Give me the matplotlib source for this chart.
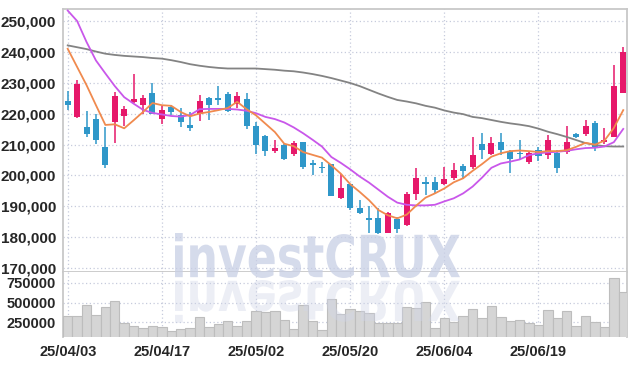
import matplotlib
matplotlib.use("Agg")
import matplotlib.pyplot as plt
import matplotlib.ticker as mticker
from matplotlib.textpath import TextPath
from matplotlib.patches import PathPatch
from matplotlib.font_manager import FontProperties
from matplotlib.transforms import Affine2D

# daily candles (thousand won)
opens = [224.1, 219.0, 215.8, 218.3, 209.1, 217.4, 219.3, 223.9, 222.8, 226.8,
         218.4, 222.2, 219.5, 216.3, 220.1, 225.0, 225.0, 226.3, 223.1, 224.9,
         216.2, 212.7, 207.9, 210.0, 207.1, 210.9, 204.1, 202.8, 203.6, 192.7,
         197.2, 189.6, 186.1, 186.1, 181.4, 185.8, 183.9, 194.0, 197.9, 197.8,
         197.2, 199.2, 203.1, 202.7, 210.1, 207.0, 211.0, 208.1, 207.3, 204.3,
         208.4, 206.5, 207.3, 207.5, 213.5, 213.4, 217.1, 210.8, 212.6, 226.9]
highs = [227.5, 230.9, 221.0, 220.1, 215.6, 227.1, 222.6, 233.0, 226.2, 230.1,
         222.6, 223.0, 221.9, 220.6, 226.2, 225.3, 229.1, 227.1, 227.1, 226.6,
         217.3, 213.0, 211.6, 210.3, 211.2, 211.0, 205.1, 204.4, 203.8, 200.6,
         197.4, 192.0, 190.0, 189.3, 188.2, 186.6, 194.5, 202.4, 199.5, 199.6,
         202.6, 203.9, 203.6, 212.5, 213.7, 212.6, 213.7, 208.3, 211.6, 208.1,
         209.4, 213.2, 208.4, 215.9, 213.8, 218.0, 217.7, 215.4, 235.7, 241.6]
lows = [221.2, 218.8, 212.5, 210.1, 202.5, 210.7, 216.2, 223.6, 219.8, 219.9,
        216.6, 219.5, 215.6, 214.5, 217.6, 218.1, 222.8, 220.6, 222.0, 215.0,
        207.1, 206.4, 207.3, 204.9, 206.2, 202.0, 200.1, 200.8, 193.3, 192.5,
        188.7, 187.5, 181.5, 181.1, 181.2, 181.4, 183.7, 192.2, 193.6, 194.2,
        196.9, 198.7, 199.0, 202.1, 205.2, 206.5, 206.5, 200.9, 205.4, 203.8,
        204.8, 205.4, 200.8, 207.0, 212.2, 212.9, 208.1, 210.2, 212.4, 226.6]
closes = [223.0, 229.6, 213.6, 211.5, 203.4, 225.7, 221.7, 224.7, 225.2, 220.1,
          221.2, 220.6, 217.3, 215.5, 224.1, 222.8, 224.4, 220.9, 225.7, 216.1,
          210.0, 207.9, 209.0, 205.2, 210.6, 202.8, 203.5, 202.3, 193.4, 195.8,
          189.5, 187.9, 185.6, 181.3, 187.7, 182.6, 193.9, 199.3, 197.4, 195.3,
          198.9, 201.8, 201.5, 206.5, 208.3, 210.6, 208.3, 205.3, 207.0, 207.3,
          206.2, 211.6, 202.4, 211.0, 212.5, 216.1, 208.9, 211.6, 229.0, 240.0]

# moving averages (thousand won)
ma_short = [241.1, 235.2, 229.3, 222.8, 216.4, 216.6, 215.3, 217.9, 220.6, 223.5,
            222.8, 222.6, 220.6, 219.2, 220.1, 220.6, 221.2, 221.9, 223.9, 221.5,
            219.5, 216.8, 214.1, 210.3, 209.5, 207.6, 206.7, 205.8, 203.3, 200.6,
            197.2, 194.7, 192.0, 188.8, 187.1, 186.1, 187.3, 190.2, 192.8, 194.2,
            195.8, 197.8, 199.1, 201.5, 203.7, 206.1, 207.2, 207.9, 208.1, 207.9,
            207.6, 207.9, 207.9, 208.2, 209.3, 210.6, 210.0, 211.3, 215.4, 221.2]
ma_mid = [253.5, 250.1, 243.3, 237.3, 233.1, 229.0, 225.4, 223.3, 221.3, 220.3,
          219.8, 219.3, 219.1, 219.6, 221.5, 221.6, 221.6, 221.6, 221.4, 221.0,
          220.2, 219.0, 218.3, 217.2, 215.6, 213.7, 211.6, 209.4, 206.0, 204.1,
          202.0, 199.7, 197.7, 195.4, 193.1, 191.2, 190.5, 190.3, 190.3, 190.5,
          191.6, 192.6, 194.2, 196.4, 199.3, 202.5, 203.9, 204.5, 205.2, 206.6,
          207.2, 207.5, 207.7, 208.0, 208.5, 208.9, 209.0, 209.4, 210.8, 215.1]
ma_long = [242.2, 241.6, 241.0, 240.2, 239.5, 239.1, 238.8, 238.6, 238.4, 238.1,
           237.9, 237.4, 236.8, 236.1, 235.6, 235.2, 234.9, 234.7, 234.7, 234.7,
           234.7, 234.5, 234.3, 234.0, 233.8, 233.4, 232.9, 232.3, 231.6, 230.8,
           230.0, 229.0, 227.8, 226.6, 225.5, 224.5, 224.0, 223.4, 222.6, 222.0,
           221.1, 220.4, 219.9, 219.0, 218.6, 218.0, 217.4, 216.9, 216.5, 216.0,
           215.2, 214.2, 213.4, 212.5, 211.5, 210.5, 209.9, 209.5, 209.4, 209.4]

# volume (thousand shares)
volume = [330, 330, 468, 342, 439, 515, 237, 199, 174, 199,
          187, 138, 162, 174, 313, 187, 229, 263, 199, 263,
          393, 376, 393, 279, 162, 468, 263, 149, 540, 351,
          418, 393, 363, 237, 237, 237, 439, 426, 502, 174,
          300, 254, 330, 414, 300, 456, 313, 263, 279, 237,
          220, 405, 300, 393, 199, 330, 254, 187, 809, 632]

tick_pos = [0, 10, 20, 30, 40, 50]
tick_labels = ["25/04/03", "25/04/17", "25/05/02", "25/05/20", "25/06/04", "25/06/19"]

UP = "#e6186a"
DOWN = "#2f97c9"
GRID = "#c6cbdc"
EDGE = "#c8c8c8"
LABEL = "#262626"

plt.rcParams["font.family"] = ["Liberation Sans Narrow", "Liberation Sans", "DejaVu Sans"]
plt.rcParams["font.weight"] = "bold"

fig = plt.figure(figsize=(6.37, 3.66), dpi=100)
ax = fig.add_axes([63 / 637, 1 - 272 / 366, 564 / 637, 263 / 366])
axv = fig.add_axes([63 / 637, 1 - 337 / 366, 564 / 637, 65 / 366], sharex=ax)

n = len(opens)
xs = list(range(n))

# price panel
for i in xs:
    o, h, l, c = [v * 1000 for v in (opens[i], highs[i], lows[i], closes[i])]
    col = UP if c >= o else DOWN
    ax.vlines(i, l, h, color=col, lw=1.1, zorder=3)
    body = max(abs(c - o), 350)
    ax.bar(i, body, bottom=min(o, c), width=0.64, color=col, zorder=4)

ax.plot(xs, [v * 1000 for v in ma_long], color="#838383", lw=1.3, zorder=5)
ax.plot(xs, [v * 1000 for v in ma_mid], color="#c957ea", lw=1.3, zorder=5)
ax.plot(xs, [v * 1000 for v in ma_short], color="#f08a4e", lw=1.3, zorder=5)

ax.set_ylim(168700, 254000)
ax.set_xlim(-0.5, 59.4)
ax.set_yticks(range(170000, 250001, 10000))
ax.yaxis.set_major_formatter(mticker.FuncFormatter(lambda v, p: "{:,.0f}".format(v)))
ax.grid(True, color=GRID, lw=0.9, ls=(0, (1, 2)))
ax.set_axisbelow(True)
ax.tick_params(axis="y", length=0, pad=5, labelsize=11, labelcolor=LABEL)
ax.tick_params(axis="x", length=0, labelbottom=False)
for sp in ax.spines.values():
    sp.set_color(EDGE)
    sp.set_linewidth(1.3)

# volume panel
axv.bar(xs, [v * 1000 for v in volume], width=1.0, color="#d5d5d5",
        edgecolor="#bdbdbd", lw=0.8, zorder=3)
axv.set_ylim(62000, 890000)
axv.set_yticks([250000, 500000, 750000])
axv.yaxis.set_major_formatter(mticker.FuncFormatter(lambda v, p: "{:.0f}".format(v)))
axv.set_xticks(tick_pos)
axv.set_xticklabels(tick_labels)
axv.grid(True, color=GRID, lw=0.9, ls=(0, (1, 2)))
axv.set_axisbelow(True)
axv.tick_params(axis="y", length=0, pad=5, labelsize=10.5, labelcolor=LABEL)
axv.tick_params(axis="x", length=0, pad=6, labelsize=10.5, labelcolor=LABEL)
for sp in axv.spines.values():
    sp.set_color(EDGE)
    sp.set_linewidth(1.3)
axv.spines["top"].set_visible(False)
axv.spines["bottom"].set_visible(False)

# watermark with reflection
over = fig.add_axes([0, 0, 1, 1], zorder=10)
over.set_xlim(0, 637)
over.set_ylim(366, 0)
over.axis("off")
tp = TextPath((0, 0), "investCRUX", size=100,
              prop=FontProperties(family="DejaVu Sans", weight="bold"))
bb = tp.get_extents()
sx = (460 - 175) / bb.width
sy = (278 - 233) / bb.height
main_tr = Affine2D().translate(-bb.x0, -bb.y0).scale(sx, -sy).translate(175, 278)
refl_tr = Affine2D().translate(-bb.x0, -bb.y0).scale(sx, sy * 0.95).translate(175, 280)
over.add_patch(PathPatch(main_tr.transform_path(tp), color="#c8cfe5", alpha=0.75, lw=0))
over.add_patch(PathPatch(refl_tr.transform_path(tp), color="#d0d5e8", alpha=0.4, lw=0))

fig.savefig("out.png", dpi=100)
